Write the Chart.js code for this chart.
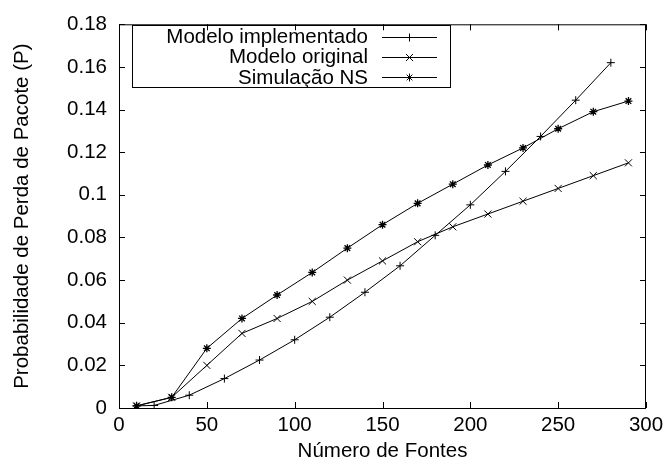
<!DOCTYPE html>
<html>
<head>
<meta charset="utf-8">
<script src="https://cdn.jsdelivr.net/npm/chart.js@4/dist/chart.umd.min.js"></script>
<style>
  body { margin: 0; background: #fff; }
</style>
</head>
<body>
<canvas id="perdaChart" width="669" height="470"></canvas>
<script>
//dados
var fontesImpl = [10, 20, 40, 60, 80, 100, 120, 140, 160, 180, 200, 220, 240, 260, 280];
var probImpl = [0.001, 0.0012, 0.006, 0.0138, 0.0225, 0.032, 0.0426, 0.0543, 0.0667, 0.081, 0.0953, 0.111, 0.1274, 0.1444, 0.162];

var fontesSim = [10, 30, 50, 70, 90, 110, 130, 150, 170, 190, 210, 230, 250, 270, 290];
var probOrig = [0.001, 0.005, 0.02, 0.035, 0.042, 0.05, 0.06, 0.069, 0.078, 0.085, 0.091, 0.097, 0.103, 0.109, 0.115];
var probNS = [0.001, 0.005, 0.028, 0.042, 0.053, 0.0636, 0.075, 0.086, 0.096, 0.105, 0.114, 0.122, 0.131, 0.139, 0.144];

var ticksX = [0, 50, 100, 150, 200, 250, 300];
var ticksY = [0, 0.02, 0.04, 0.06, 0.08, 0.1, 0.12, 0.14, 0.16, 0.18];

var fonte = "'Liberation Sans', Arial, sans-serif";
Chart.defaults.color = '#000';
Chart.defaults.font.family = fonte;
Chart.defaults.font.size = 20.5;

//junta x e y
function pares(xs, ys){
	var out = [];
	for (var i = 0; i < xs.length; i++) {
		out.push({x: xs[i], y: ys[i]});
	}
	return out;
}

//moldura, ticks para dentro e legenda estilo gnuplot
var moldura = {
	id: 'moldura',
	afterDraw: function(chart){
		var ctx = chart.ctx;
		var a = chart.chartArea;
		var sx = chart.scales.x;
		var sy = chart.scales.y;
		var tam = 6;
		ctx.save();
		ctx.strokeStyle = '#000';
		ctx.lineWidth = 1;
		ctx.strokeRect(a.left + 0.5, a.top + 0.5, a.right - a.left - 1, a.bottom - a.top);
		ctx.beginPath();
		for (var i = 0; i < ticksX.length; i++) {
			var px = Math.round(sx.getPixelForValue(ticksX[i])) + 0.5;
			ctx.moveTo(px, a.bottom); ctx.lineTo(px, a.bottom - tam);
			ctx.moveTo(px, a.top); ctx.lineTo(px, a.top + tam);
		}
		for (var j = 0; j < ticksY.length; j++) {
			var py = Math.round(sy.getPixelForValue(ticksY[j])) + 0.5;
			ctx.moveTo(a.left, py); ctx.lineTo(a.left + tam, py);
			ctx.moveTo(a.right, py); ctx.lineTo(a.right - tam, py);
		}
		ctx.stroke();

		//caixa da legenda
		ctx.strokeRect(132.5, 25.5, 318, 62);
		ctx.font = '20.5px ' + fonte;
		ctx.textAlign = 'right';
		ctx.textBaseline = 'middle';
		ctx.fillStyle = '#000';
		var ds = chart.data.datasets;
		for (var k = 0; k < ds.length; k++) {
			var ly = 36.5 + k * 20.3;
			ctx.fillText(ds[k].label, 368, ly + 1);
			ctx.beginPath();
			ctx.moveTo(382, Math.round(ly) + 0.5);
			ctx.lineTo(437, Math.round(ly) + 0.5);
			ctx.stroke();
			Chart.helpers.drawPoint(ctx, {
				pointStyle: ds[k].pointStyle,
				radius: ds[k].pointRadius,
				rotation: 0,
				borderWidth: 1
			}, 409.5, Math.round(ly) + 0.5);
		}
		ctx.restore();
	}
};

var ctxPerda = document.getElementById("perdaChart");
var chartPerda = new Chart(ctxPerda, {
	type: 'line',
	data: {
		datasets: [{
			label: 'Modelo implementado',
			data: pares(fontesImpl, probImpl),
			borderColor: '#000',
			backgroundColor: '#000',
			borderWidth: 1,
			pointStyle: 'cross',
			pointRadius: 4,
			pointBorderWidth: 1,
			tension: 0
		},
		{
			label: 'Modelo original',
			data: pares(fontesSim, probOrig),
			borderColor: '#000',
			backgroundColor: '#000',
			borderWidth: 1,
			pointStyle: 'crossRot',
			pointRadius: 5,
			pointBorderWidth: 1,
			tension: 0
		},
		{
			label: 'Simulação NS',
			data: pares(fontesSim, probNS),
			borderColor: '#000',
			backgroundColor: '#000',
			borderWidth: 1,
			pointStyle: 'star',
			pointRadius: 4,
			pointBorderWidth: 1.3,
			tension: 0
		}]
	},
	options: {
		responsive: false,
		animation: false,
		layout: { padding: { top: 20, right: 23, left: 0, bottom: 0 } },
		plugins: {
			legend: { display: false },
			tooltip: { enabled: false }
		},
		scales: {
			x: {
				type: 'linear',
				min: 0,
				max: 300,
				afterBuildTicks: function(s){ s.ticks = ticksX.map(function(v){ return {value: v}; }); },
				afterFit: function(s){ s.height = 62; },
				grid: { display: false, drawTicks: false },
				border: { display: false },
				ticks: { padding: 5, maxRotation: 0 },
				title: { display: true, text: 'Número de Fontes', padding: { top: 0, bottom: 6 } }
			},
			y: {
				type: 'linear',
				min: 0,
				max: 0.18,
				afterBuildTicks: function(s){ s.ticks = ticksY.map(function(v){ return {value: v}; }); },
				afterFit: function(s){ s.width = 119; },
				grid: { display: false, drawTicks: false },
				border: { display: false },
				ticks: {
					padding: 12,
					callback: function(v){ return String(parseFloat(v.toFixed(2))); }
				},
				title: { display: true, text: 'Probabilidade de Perda de Pacote (P)', padding: { top: 10, bottom: 0 } }
			}
		}
	},
	plugins: [moldura]
});
</script>
</body>
</html>
